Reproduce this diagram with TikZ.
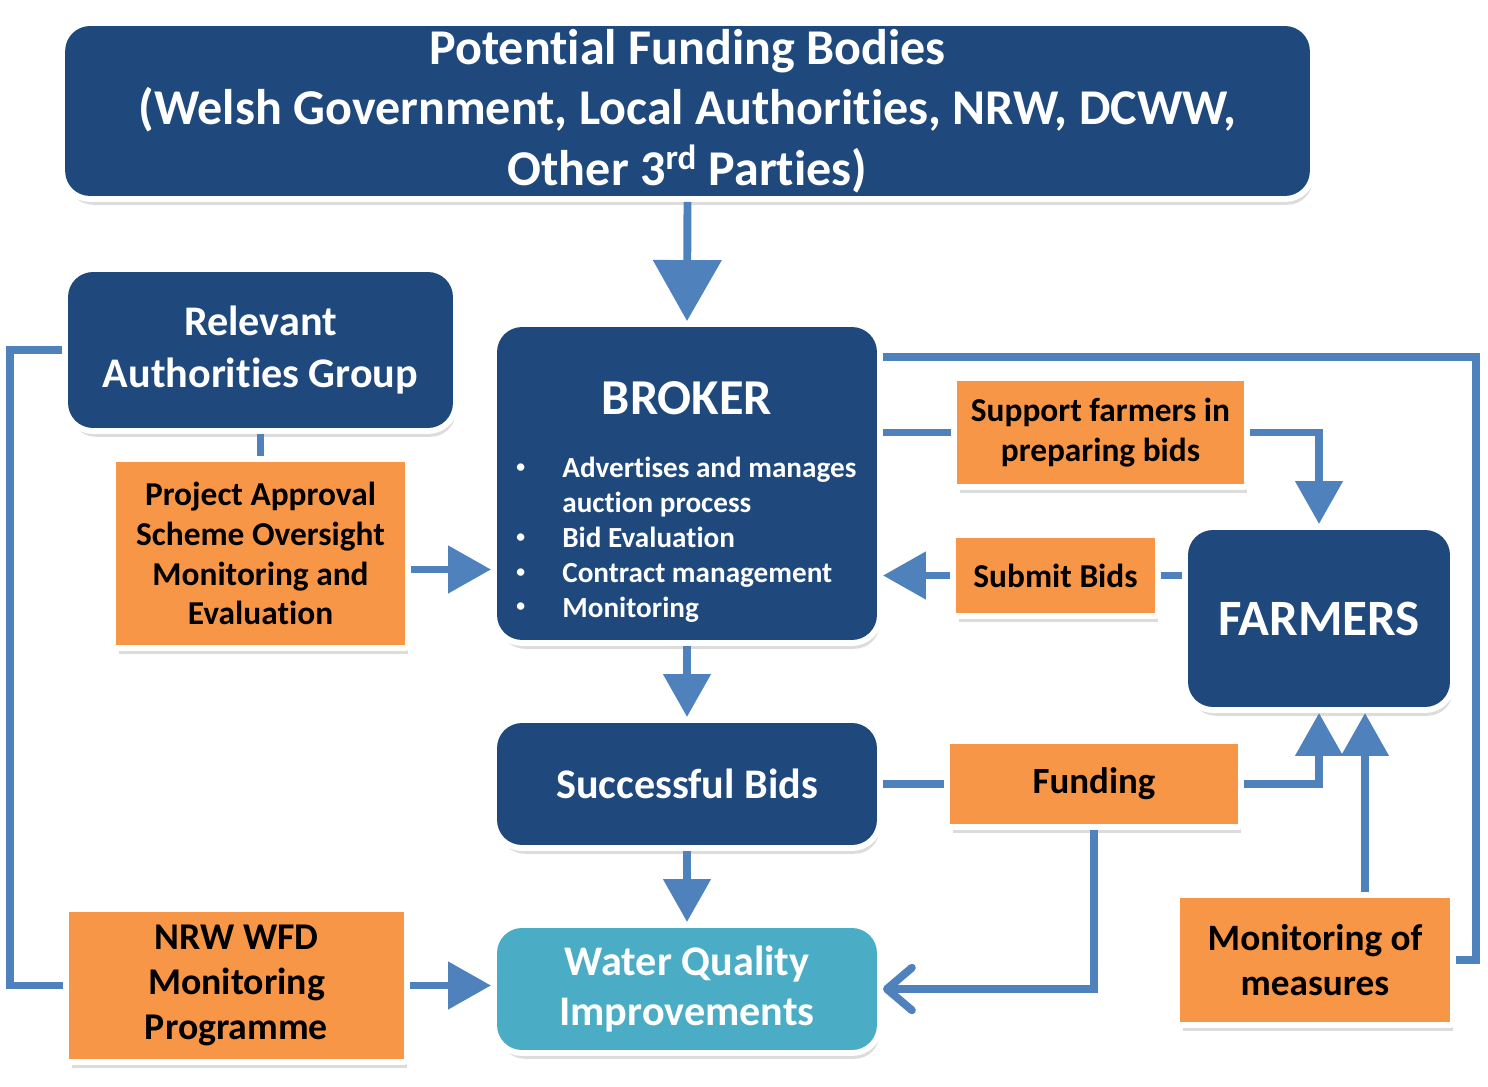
\documentclass[tikz,border=0pt]{standalone}
\usepackage{fontspec}
\setmainfont{Carlito}[Ligatures=NoCommon]
\usepackage{xcolor}
\usetikzlibrary{arrows.meta,positioning,shadows}
\definecolor{navy}{RGB}{31,73,125}
\definecolor{orangefill}{RGB}{247,150,70}
\definecolor{tealfill}{RGB}{75,172,198}
\definecolor{linkblue}{RGB}{79,129,189}
\newcommand{\smallbul}{\raisebox{0.18em}{\fontsize{10}{10}\selectfont\textbullet}}

\begin{document}
\begin{tikzpicture}[x=0.02cm,y=-0.02cm,font=\bfseries,
  softshadow/.style={drop shadow={opacity=0.28,shadow xshift=1.5pt,shadow yshift=-5pt}},
  rim/.style={preaction={draw=white,line width=6.8pt,line join=round}},
  blk/.style={softshadow,rim,fill=navy,text=white,rounded corners=0.5cm,align=center,inner sep=0pt,outer sep=3.4pt},
  org/.style={softshadow,rim,fill=orangefill,text=black,align=center,inner sep=0pt,outer sep=3.4pt},
  link/.style={draw=linkblue,line width=4.5pt},
  arr/.style={link,-{Triangle[length=0.86cm,width=0.92cm]}},
  bigarr/.style={link,-{Triangle[length=1.22cm,width=1.34cm]}},
  openarr/.style={link,-{Straight Barb[length=0.5cm,width=0.85cm,round]}}]
\useasboundingbox (0,0) rectangle (1488,1087);
% main column
\node[blk,minimum width=24.9cm,minimum height=3.4cm,font=\fontsize{28.5}{34.5}\selectfont\bfseries] (fund) at (687.5,111)
  {Potential Funding Bodies\\(Welsh Government, Local Authorities, NRW, DCWW,\\Other 3\textsuperscript{rd} Parties)};
\node[blk,minimum width=7.6cm,minimum height=6.26cm] (broker) at (687,483.5) {};
\node[text=white,font=\fontsize{28.6}{34}\selectfont\bfseries] (brokerhd) at (687,398) {BROKER};
\node[text=white,anchor=base west,inner sep=0pt,font=\fontsize{16.6}{19.8}\selectfont\bfseries] (brokerlist) at (516,478)
  {\begin{tabular}[t]{@{}p{0.92cm}@{}l@{}}
   \smallbul & Advertises and manages\\ & auction process\\
   \smallbul & Bid Evaluation\\ \smallbul & Contract management\\ \smallbul & Monitoring
   \end{tabular}};
\node[blk,minimum width=7.6cm,minimum height=2.44cm,font=\fontsize{24}{29}\selectfont\bfseries] (succ) at (687,784) {Successful Bids};
\node[blk,fill=tealfill,minimum width=7.6cm,minimum height=2.44cm,font=\fontsize{24}{28.4}\selectfont\bfseries] (water) at (687,989) {Water Quality\\Improvements};
% left side
\node[blk,minimum width=7.7cm,minimum height=3.12cm,font=\fontsize{24}{30}\selectfont\bfseries] (rag) at (260.5,350) {Relevant\\Authorities Group};
\node[org,minimum width=5.78cm,minimum height=3.66cm,font=\fontsize{19}{22.7}\selectfont\bfseries] (projapp) at (260.5,553.5)
  {Project Approval\\Scheme Oversight\\Monitoring and\\Evaluation};
\node[org,minimum width=6.7cm,minimum height=2.94cm,font=\fontsize{21.5}{25.5}\selectfont\bfseries] (nrw) at (236.5,985.5) {NRW WFD\\Monitoring\\Programme};
% right side
\node[blk,minimum width=5.24cm,minimum height=3.54cm,font=\fontsize{29}{34}\selectfont\bfseries] (farmers) at (1319,618.5) {FARMERS};
\node[org,minimum width=5.74cm,minimum height=2.06cm,font=\fontsize{19}{22.7}\selectfont\bfseries] (support) at (1100.5,432.5) {Support farmers in\\preparing bids};
\node[org,minimum width=3.98cm,minimum height=1.5cm,font=\fontsize{19}{22.7}\selectfont\bfseries] (submit) at (1055.5,575.5) {Submit Bids};
\node[org,minimum width=5.76cm,minimum height=1.6cm,font=\fontsize{21}{25}\selectfont\bfseries] (funding) at (1094,784) {Funding};
\node[org,minimum width=5.4cm,minimum height=2.48cm,font=\fontsize{21.2}{25.5}\selectfont\bfseries] (monmeas) at (1315,960) {Monitoring of\\measures};
\coordinate (lft) at (10,0);
\coordinate (rgt) at (1476,0);
% connectors
\draw[bigarr] (fund.south) -- (broker.north);
\draw[arr] (broker.south) -- (succ.north);
\draw[arr] (succ.south) -- (water.north);
\draw[link] (rag.south) -- (projapp.north);
\draw[arr] ([yshift=-0.32cm]projapp.east) -- ([yshift=-0.32cm]projapp.east -| broker.west);
\draw[link] (rag.west) -- (rag.west -| lft) |- (nrw.west);
\draw[arr] (nrw.east) -- (nrw.east -| water.west);
\draw[link] (broker.east |- support.west) -- (support.west);
\draw[arr] (support.east) -| (farmers.north);
\draw[link] (farmers.west |- submit.east) -- (submit.east);
\draw[arr] (submit.west) -- (submit.west -| broker.east);
\draw[link] ([yshift=-0.72cm]broker.north east) -| (rgt |- monmeas.east) -- (monmeas.east);
\draw[link] (succ.east) -- (funding.west);
\draw[arr] (funding.east) -| (farmers.south);
\draw[arr] ([xshift=1cm]monmeas.north) -- ([xshift=1cm]monmeas.north |- farmers.south);
\draw[openarr] (funding.south) |- (water.east);
\end{tikzpicture}
\end{document}
